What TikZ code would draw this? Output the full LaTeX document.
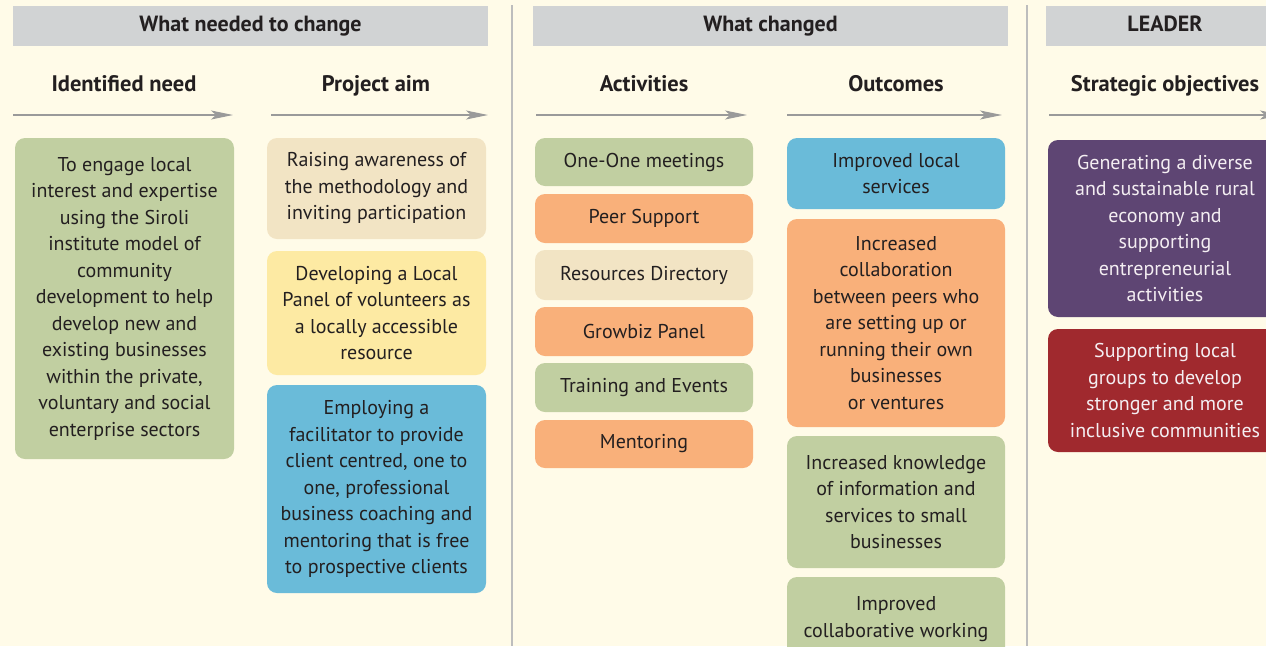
\documentclass[tikz,border=0pt]{standalone}
\usepackage{fontspec}
\setmainfont{PT Sans}
\usetikzlibrary{arrows.meta}
\definecolor{bg}{HTML}{FFFBE8}
\definecolor{hdr}{HTML}{D1D3D4}
\definecolor{sep}{HTML}{BDBDBD}
\definecolor{arr}{HTML}{9A9A9A}
\definecolor{cgreen}{HTML}{C1CFA1}
\definecolor{corange}{HTML}{F9B07A}
\definecolor{cbeige}{HTML}{F2E4C4}
\definecolor{cyellow}{HTML}{FDEAA3}
\definecolor{cblue}{HTML}{6ABBD9}
\definecolor{cpurple}{HTML}{5E4573}
\definecolor{cred}{HTML}{A0292E}
\definecolor{txt}{HTML}{231F20}
\definecolor{wtxt}{HTML}{F4EEF2}
\tikzset{
  box/.style={rounded corners=10pt, draw=none, align=center, inner sep=0pt,
    text=txt, font=\fontsize{20}{26.5}\selectfont},
  hbar/.style={fill=hdr, draw=none, inner sep=0pt, minimum height=40pt,
    text height=15pt, text depth=5pt,
    font=\bfseries\fontsize{22}{24}\selectfont, text=txt},
  subhd/.style={font=\bfseries\fontsize{22.5}{24}\selectfont, text=txt, inner sep=0pt, anchor=base},
  flow/.style={draw=arr, line width=1.3pt, -{Stealth[length=22pt,width=9pt,inset=5pt]}},
  sepline/.style={draw=sep, line width=1.5pt}
}
\begin{document}
\begin{tikzpicture}[x=1pt,y=-1pt]
\fill[bg] (0,0) rectangle (1266,646);
\useasboundingbox (0,0) rectangle (1266,646);
\clip (0,0) rectangle (1266,646);
% separators
\coordinate (s1t) at (512,5); \coordinate (s1b) at (512,646);
\coordinate (s2t) at (1027,5); \coordinate (s2b) at (1027,646);
\draw[sepline] (s1t) -- (s1b);
\draw[sepline] (s2t) -- (s2b);
% header bars
\node[hbar, minimum width=475pt] (h1) at (250.5,26) {What needed to change};
\node[hbar, minimum width=475pt] (h2) at (770.5,26) {What changed};
\node[hbar, minimum width=238pt] (h3) at (1165,26) {LEADER};
% subheaders
\node[subhd] (t1) at (124,91) {Identified need};
\node[subhd] (t2) at (376,91) {Project aim};
\node[subhd] (t3) at (644,91) {Activities};
\node[subhd] (t4) at (896,91) {Outcomes};
\node[subhd] (t5) at (1165,91) {Strategic objectives};
% arrows
\coordinate (a1s) at (13,115); \coordinate (a1e) at (233,115);
\coordinate (a2s) at (271,115); \coordinate (a2e) at (488,115);
\coordinate (a3s) at (536,115); \coordinate (a3e) at (747,115);
\coordinate (a4s) at (787,115); \coordinate (a4e) at (1002,115);
\coordinate (a5s) at (1049,115); \coordinate (a5e) at (1282,115);
\draw[flow] (a1s) -- (a1e);
\draw[flow] (a2s) -- (a2e);
\draw[flow] (a3s) -- (a3e);
\draw[flow] (a4s) -- (a4e);
\draw[flow] (a5s) -- (a5e);
% column 1
\node[box, fill=cgreen, minimum width=219pt, minimum height=321pt] (n1) at (124.5,298.5)
 {To engage local\\interest and expertise\\using the Siroli\\institute model of\\community\\development to help\\develop new and\\existing businesses\\within the private,\\voluntary and social\\enterprise sectors};
% column 2
\node[box, fill=cbeige, minimum width=219pt, minimum height=101pt] (p1) at (376.5,188.5)
 {Raising awareness of\\the methodology and\\inviting participation};
\node[box, fill=cyellow, minimum width=219pt, minimum height=124pt] (p2) at (376.5,313)
 {Developing a Local\\Panel of volunteers as\\a locally accessible\\resource};
\node[box, fill=cblue, minimum width=219pt, minimum height=208pt] (p3) at (376.5,489)
 {Employing a\\facilitator to provide\\client centred, one to\\one, professional\\business coaching and\\mentoring that is free\\to prospective clients};
% column 3
\node[box, fill=cgreen, minimum width=218pt, minimum height=48pt] (c1) at (644,162) {One-One meetings};
\node[box, fill=corange, minimum width=218pt, minimum height=49pt] (c2) at (644,218.5) {Peer Support};
\node[box, fill=cbeige, minimum width=218pt, minimum height=50pt] (c3) at (644,275) {Resources Directory};
\node[box, fill=corange, minimum width=218pt, minimum height=49pt] (c4) at (644,331.5) {Growbiz Panel};
\node[box, fill=cgreen, minimum width=218pt, minimum height=49pt] (c5) at (644,387.5) {Training and Events};
\node[box, fill=corange, minimum width=218pt, minimum height=48pt] (c6) at (644,444) {Mentoring};
% column 4
\node[box, fill=cblue, minimum width=218pt, minimum height=71pt] (o1) at (896,173.5)
 {Improved local\\services};
\node[box, fill=corange, minimum width=218pt, minimum height=208pt] (o2) at (896,323)
 {Increased\\collaboration\\between peers who\\are setting up or\\running their own\\businesses\\or ventures};
\node[box, fill=cgreen, minimum width=218pt, minimum height=132pt] (o3) at (896,502)
 {Increased knowledge\\of information and\\services to small\\businesses};
\node[box, fill=cgreen, minimum width=218pt, minimum height=84pt] (o4) at (896,619)
 {Improved\\collaborative working};
% column 5
\node[box, fill=cpurple, text=wtxt, minimum width=234pt, minimum height=177pt] (s1) at (1165,228.5)
 {Generating a diverse\\and sustainable rural\\economy and\\supporting\\entrepreneurial\\activities};
\node[box, fill=cred, text=wtxt, minimum width=234pt, minimum height=123pt] (s2) at (1165,390.5)
 {Supporting local\\groups to develop\\stronger and more\\inclusive communities};
\end{tikzpicture}
\end{document}
